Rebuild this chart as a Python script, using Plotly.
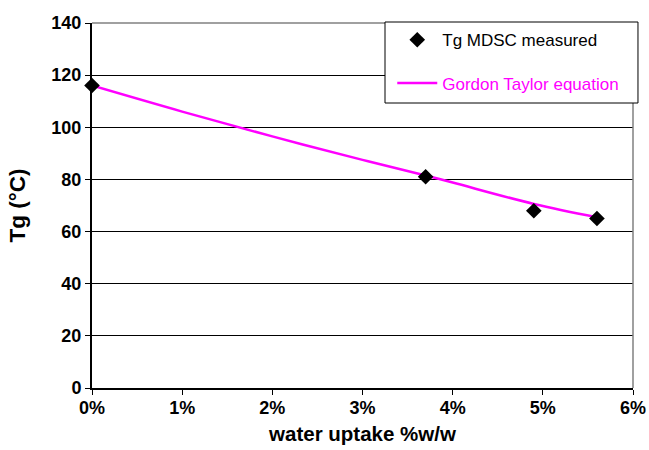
import plotly.graph_objects as go

# measured data
water_meas = [0.0, 3.7, 4.9, 5.6]
tg_meas = [116, 81, 68, 65]

# Gordon Taylor curve
water_gt = [0.0, 1.0, 2.0, 3.0, 3.7, 4.0, 4.9, 5.6]
tg_gt = [116, 106, 96.5, 87.5, 81.5, 78.8, 70.6, 65.5]

x_ticks = [0, 1, 2, 3, 4, 5, 6]
x_labels = ["0%", "1%", "2%", "3%", "4%", "5%", "6%"]
y_ticks = [0, 20, 40, 60, 80, 100, 120, 140]
y_labels = [str(v) for v in y_ticks]

font = "Liberation Sans, Arial, sans-serif"

fig = go.Figure()
fig.add_trace(go.Scatter(
    x=water_gt, y=tg_gt, mode="lines", line=dict(color="#ff00ff", width=2.5, shape="spline"),
    name="<span style='color:#ff00ff'>Gordon Taylor equation</span>",
    legendgroup="b", legendrank=2))
fig.add_trace(go.Scatter(
    x=water_meas, y=tg_meas, mode="markers",
    marker=dict(symbol="diamond", size=12, color="black"),
    name="Tg MDSC measured", legendgroup="a", legendrank=1, cliponaxis=False))

fig.update_layout(
    width=649, height=450,
    margin=dict(l=92, r=16, t=23, b=62),
    paper_bgcolor="white", plot_bgcolor="white",
    font=dict(family=font, color="black"),
    showlegend=True,
    legend=dict(x=0.555, y=1.002, xanchor="left", yanchor="top",
                bgcolor="rgba(0,0,0,0)", borderwidth=0,
                font=dict(size=17, family=font), tracegroupgap=18,
                itemwidth=40),
    xaxis=dict(range=[0, 6], tickvals=x_ticks, ticktext=["<b>%s</b>" % t for t in x_labels],
               tickfont=dict(size=18, family=font), ticklabelstandoff=-3,
               ticks="outside", ticklen=5, tickcolor="black",
               showline=True, linecolor="black", linewidth=2,
               showgrid=False, zeroline=False, mirror=False, automargin=False,
               title=dict(text="<b>water uptake %w/w</b>", font=dict(size=20.5), standoff=10)),
    yaxis=dict(range=[0, 140], tickvals=y_ticks, ticktext=["<b>%s</b>" % t for t in y_labels],
               tickfont=dict(size=18, family=font),
               ticks="outside", ticklen=5, tickcolor="black",
               showline=True, linecolor="black", linewidth=2, automargin=False,
               showgrid=True, gridcolor="black", gridwidth=1, zeroline=False,
               title=dict(text="<b>Tg (°C)</b>", font=dict(size=22.5), standoff=19)),
)
# grey frame on top and right
fig.add_shape(type="line", xref="paper", yref="paper", x0=0, x1=1, y0=1, y1=1,
              line=dict(color="#808080", width=1.5))
fig.add_shape(type="line", xref="paper", yref="paper", x0=1, x1=1, y0=0, y1=1,
              line=dict(color="#808080", width=1.5))
# legend box
fig.add_shape(type="rect", xref="paper", yref="paper", x0=0.5416, x1=1.0092,
              y0=0.7808, y1=1.0027, fillcolor="white", layer="above",
              line=dict(color="black", width=1))

fig.write_html("out.html")
